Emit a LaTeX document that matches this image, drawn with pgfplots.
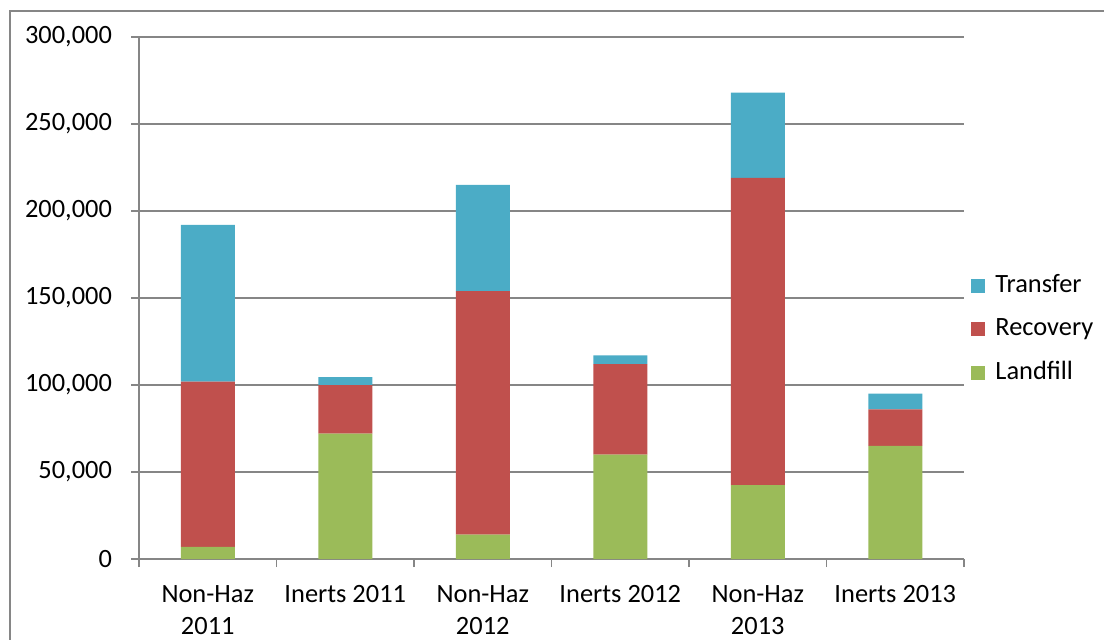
\documentclass[border=0pt]{standalone}
\usepackage{fontspec}
\setmainfont{Carlito}
\usepackage{pgfplots}
\pgfplotsset{compat=1.18}
\usepackage{pgfplotstable}

\definecolor{cTransfer}{HTML}{4BACC6}
\definecolor{cRecovery}{HTML}{C0504D}
\definecolor{cLandfill}{HTML}{9BBB59}
\definecolor{axisgray}{HTML}{868686}

% Tonnes by category: landfill, recovery, transfer (stacked)
\pgfplotstableread{
x landfill recovery transfer
0 7000   95000  90000
1 72000  28000  4500
2 14000  140000 61000
3 60000  52000  5000
4 42500  176500 49000
5 65000  21000  9000
}\wastedata

\begin{document}
\fontsize{13pt}{16pt}\selectfont
\begin{tikzpicture}
\useasboundingbox (0,0) rectangle (552pt,319.5pt);
\draw[axisgray, line width=1pt] (5pt,-5pt) -- (5pt,314pt) -- (560pt,314pt);
\begin{axis}[
  at={(69.5pt,40pt)}, anchor=south west,
  scale only axis, width=412.5pt, height=261pt,
  ybar stacked, bar width=27pt,
  xmin=-0.5, xmax=5.5, ymin=0, ymax=300000,
  axis x line*=bottom, axis y line*=left,
  axis line style={axisgray, line width=0.75pt},
  every tick/.style={axisgray, line width=0.75pt},
  tick align=outside,
  xtick={0,...,5},
  xticklabels={{Non-Haz\\2011},{Inerts 2011},{Non-Haz\\2012},{Inerts 2012},{Non-Haz\\2013},{Inerts 2013}},
  xticklabel style={align=center, font=\fontsize{13.2pt}{16pt}\selectfont, yshift=-4.5pt},
  major x tick style={draw=none},
  minor xtick={-0.5,0.5,...,5.5},
  minor tick length=4pt,
  major tick length=4pt,
  ytick={0,50000,100000,150000,200000,250000,300000},
  yticklabels={0,{50,000},{100,000},{150,000},{200,000},{250,000},{300,000}},
  scaled y ticks=false,
  yticklabel style={font=\fontsize{13.2pt}{16pt}\selectfont, xshift=-5pt},
  ymajorgrids,
  grid style={axisgray, line width=0.75pt},
  legend style={
    at={(1.0085,0.44)}, anchor=west, draw=none, fill=none,
    font=\fontsize{13.2pt}{16pt}\selectfont,
    row sep=7pt, inner sep=0pt,
    /tikz/every odd column/.append style={column sep=3pt},
  },
  legend cell align=left,
  reverse legend,
  legend image code/.code={\fill[#1] (0pt,-3.5pt) rectangle (7pt,3.5pt);},
  clip=false,
]
\addplot[fill=cLandfill, draw=none] table[x=x, y=landfill] {\wastedata};
\addlegendentry{Landfill}
\addplot[fill=cRecovery, draw=none] table[x=x, y=recovery] {\wastedata};
\addlegendentry{Recovery}
\addplot[fill=cTransfer, draw=none] table[x=x, y=transfer] {\wastedata};
\addlegendentry{Transfer}
\end{axis}
\end{tikzpicture}
\end{document}
